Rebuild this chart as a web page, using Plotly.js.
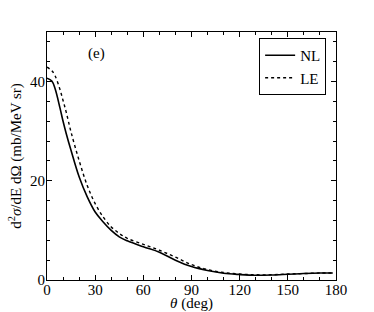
<!DOCTYPE html>
<html><head><meta charset="utf-8">
<script src="https://cdn.plot.ly/plotly-3.0.1.min.js"></script>
<style>html,body{margin:0;padding:0;background:#fff}</style>
</head><body><div id="plot" style="width:374px;height:312px"></div>
<script>
var theta = [0, 3, 5, 8, 10, 12, 15, 20, 25, 30, 35, 40, 45, 50, 60, 70, 80, 90, 100, 110, 120, 130, 140, 150, 160, 170, 178];
var nl    = [40.7, 40.1, 38.6, 34.8, 32.0, 29.5, 26.1, 20.8, 16.8, 13.7, 11.7, 10.0, 8.7, 7.9, 6.7, 5.6, 4.0, 2.7, 1.9, 1.35, 1.1, 0.95, 1.0, 1.15, 1.3, 1.4, 1.4];
var le    = [42.9, 42.2, 41.2, 38.5, 36.2, 33.8, 29.8, 24.1, 19.1, 15.4, 12.7, 10.7, 9.4, 8.4, 7.2, 6.0, 4.6, 3.1, 2.1, 1.5, 1.2, 1.05, 1.05, 1.2, 1.3, 1.4, 1.4];
var names = ["NL", "LE"];
var panelLabel = "(e)";
var xTicks = [0, 30, 60, 90, 120, 150, 180];
var yTicks = [0, 20, 40];

var font = {family: "Liberation Serif, DejaVu Serif, serif", size: 15, color: "#000"};
var traces = [
  {x: theta, y: nl, name: names[0], mode: "lines", line: {color: "#000", width: 1.6, shape: "spline"}},
  {x: theta, y: le, name: names[1], mode: "lines", line: {color: "#000", width: 1.4, dash: "dot", shape: "spline"}}
];
var axisCommon = {showgrid: false, zeroline: false, showline: true, linecolor: "#000", linewidth: 1,
  mirror: "allticks", ticks: "inside", ticklen: 5, tickwidth: 1, tickcolor: "#000", tickfont: font};
var layout = {
  width: 374, height: 312,
  margin: {l: 47, r: 38, t: 32, b: 32},
  paper_bgcolor: "#fff", plot_bgcolor: "#fff",
  font: font,
  showlegend: true,
  legend: {x: 0.734, y: 0.976, xanchor: "left", yanchor: "top", bordercolor: "#000", borderwidth: 1,
    bgcolor: "#fff", font: {family: font.family, size: 15, color: "#000"}, tracegroupgap: 0},
  xaxis: Object.assign({}, axisCommon, {range: [0, 180], tickvals: xTicks, ticktext: xTicks.map(String),
    ticklabelstandoff: -4,
    minor: {dtick: 10, ticks: "inside", ticklen: 3, tickcolor: "#000"},
    title: {text: "<i>θ</i> (deg)", font: font, standoff: 0}}),
  yaxis: Object.assign({}, axisCommon, {range: [0, 50], tickvals: yTicks, ticktext: yTicks.map(String),
    ticklabelstandoff: -2,
    minor: {dtick: 4, ticks: "inside", ticklen: 3, tickcolor: "#000"},
    title: {text: "d<sup>2</sup><i>σ</i>/dE dΩ (mb/MeV sr)", font: font, standoff: 4}}),
  annotations: [{text: panelLabel, xref: "paper", yref: "paper", x: 0.173, y: 0.915, showarrow: false,
    font: font, xanchor: "center", yanchor: "middle"}]
};
Plotly.newPlot("plot", traces, layout, {displayModeBar: false, staticPlot: true});
</script></body></html>
